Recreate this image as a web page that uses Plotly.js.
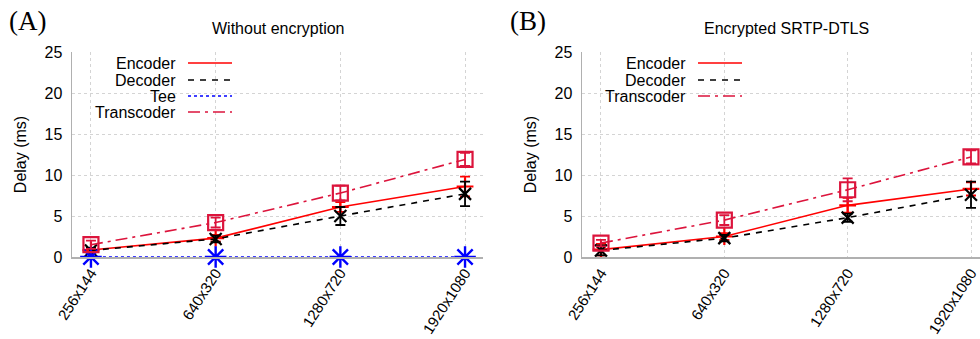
<!DOCTYPE html>
<html><head><meta charset="utf-8">
<script src="https://cdn.plot.ly/plotly-3.0.1.min.js"></script>
<style>html,body{margin:0;padding:0;background:#fff}</style>
</head><body>
<div id="chart" style="width:980px;height:339px"></div>
<script>
// ---- data ----
const categories = ['256x144', '640x320', '1280x720', '1920x1080'];

const panelTitles = ['Without encryption', 'Encrypted SRTP-DTLS'];
const panelLabels = ['(A)', '(B)'];
const yTitle = 'Delay (ms)';
const yTicks = [0, 5, 10, 15, 20, 25];

// Panel A (without encryption)
const encoderA = [0.85, 2.3, 6.1, 8.6];
const encoderAErr = [0.2, 0.4, 0.6, 1.2];
const decoderA = [0.8, 2.2, 5.0, 7.7];
const decoderAErr = [0.3, 0.4, 1.1, 1.5];
const teeA = [0, 0, 0, 0];
const teeAErr = [0, 0, 0, 0];
const transcoderA = [1.5, 4.2, 7.8, 11.9];
const transcoderAErr = [0.5, 0.6, 0.9, 0.8];

// Panel B (encrypted SRTP-DTLS)
const encoderB = [0.9, 2.5, 6.3, 8.3];
const encoderBErr = [0.7, 0.4, 0.9, 0.8];
const decoderB = [0.8, 2.3, 4.8, 7.6];
const decoderBErr = [0.6, 0.4, 0.5, 1.6];
const transcoderB = [1.7, 4.5, 8.2, 12.2];
const transcoderBErr = [0.4, 0.6, 1.4, 0.8];

// ---- styles ----
const W = 980, H = 339;
const FONT = 'Liberation Sans, Arial, sans-serif';
const styles = {
  Encoder:    {color: '#ff0000', dash: 'solid', symbol: 'cross-thin-open', size: 12, lw: 2.2},
  Decoder:    {color: '#000000', dash: '6px,6px', symbol: 'x-thin-open', size: 12, lw: 2.2},
  Tee:        {color: '#0000ff', dash: '3px,3px', symbol: 'asterisk-open', size: 18, lw: 2.4},
  Transcoder: {color: '#dc143c', dash: '12px,5px,3px,5px', symbol: 'square-open', size: 15, lw: 2.2}
};

function series(name, y, err, xa, ya) {
  const s = styles[name];
  return {
    type: 'scatter', mode: 'lines+markers', name: name,
    x: categories, y: y, xaxis: xa, yaxis: ya, showlegend: false,
    line: {color: s.color, width: 1.6, dash: s.dash},
    marker: {symbol: s.symbol, size: s.size, color: s.color, line: {color: s.color, width: s.lw}},
    error_y: {type: 'data', array: err, visible: true, color: s.color, thickness: 1.8, width: 5},
    cliponaxis: false
  };
}

const panels = [
  {xa: 'x', ya: 'y', series: [['Encoder', encoderA, encoderAErr], ['Decoder', decoderA, decoderAErr], ['Tee', teeA, teeAErr], ['Transcoder', transcoderA, transcoderAErr]]},
  {xa: 'x2', ya: 'y2', series: [['Encoder', encoderB, encoderBErr], ['Decoder', decoderB, decoderBErr], ['Transcoder', transcoderB, transcoderBErr]]}
];

const traces = [];
panels.forEach(p => {
  p.series.forEach(s => traces.push(series(s[0], s[1], s[2], p.xa, p.ya)));
});

// pixel helpers
const px = v => v / W;
const py = v => 1 - v / H;

const axisCommon = {
  showgrid: true, gridcolor: '#d4d4d4', griddash: 'dot', gridwidth: 1,
  zeroline: false, showline: true, linecolor: '#b0b0b0', linewidth: 1.5,
  ticks: '', tickfont: {family: FONT, size: 16, color: '#000'}, automargin: false
};
const xTickFont = {family: FONT, size: 15, color: '#000'};

const yDomain = [py(257), py(52)];
const layout = {
  width: W, height: H, margin: {l: 0, r: 0, t: 0, b: 0},
  paper_bgcolor: '#fff', plot_bgcolor: '#fff', showlegend: false,
  font: {family: FONT, size: 16, color: '#000'},
  xaxis: Object.assign({}, axisCommon, {domain: [px(72), px(483)], anchor: 'y', type: 'category',
    range: [-0.152, 3.144], tickangle: -57, ticklabelstandoff: 0, tickfont: xTickFont}),
  yaxis: Object.assign({}, axisCommon, {domain: yDomain, anchor: 'x', range: [0, 25], tickvals: yTicks,
    ticklabelstandoff: 5, title: {text: yTitle, font: {family: FONT, size: 16}, standoff: 14}}),
  xaxis2: Object.assign({}, axisCommon, {domain: [px(582), 1], anchor: 'y2', type: 'category',
    range: [-0.154, 3.073], tickangle: -57, ticklabelstandoff: 0, tickfont: xTickFont}),
  yaxis2: Object.assign({}, axisCommon, {domain: yDomain, anchor: 'x2', range: [0, 25], tickvals: yTicks,
    ticklabelstandoff: 5, title: {text: yTitle, font: {family: FONT, size: 16}, standoff: 14}}),
  shapes: [], annotations: []
};

// panel titles and labels
const titleX = [278, 786];
const labelX = [27, 528];
[0, 1].forEach(i => {
  layout.annotations.push({text: panelTitles[i], xref: 'paper', yref: 'paper', x: px(titleX[i]), y: py(28),
    xanchor: 'center', yanchor: 'middle', showarrow: false, font: {family: FONT, size: 16, color: '#000'}});
  layout.annotations.push({text: panelLabels[i], xref: 'paper', yref: 'paper', x: px(labelX[i]), y: py(21),
    xanchor: 'center', yanchor: 'middle', showarrow: false, font: {family: 'Liberation Serif, Times New Roman, serif', size: 27, color: '#000'}});
});

// gnuplot-style key: text right-aligned, sample line on its right
const keys = [
  {box: [82, 55, 240, 120], textRight: 178, lineFrom: 188, lineTo: 232, rows: [63, 80, 96, 112], names: panels[0].series.map(s => s[0])},
  {box: [592, 55, 750, 104], textRight: 688, lineFrom: 698, lineTo: 742, rows: [63, 80, 96], names: panels[1].series.map(s => s[0])}
];
keys.forEach(k => {
  layout.shapes.push({type: 'rect', xref: 'paper', yref: 'paper', layer: 'between',
    x0: px(k.box[0]), x1: px(k.box[2]), y0: py(k.box[3]), y1: py(k.box[1]),
    fillcolor: '#fff', line: {width: 0}});
  k.names.forEach((n, j) => {
    const s = styles[n];
    layout.annotations.push({text: n, xref: 'paper', yref: 'paper', x: px(k.textRight), y: py(k.rows[j]),
      xanchor: 'right', yanchor: 'middle', showarrow: false, font: {family: FONT, size: 16, color: '#000'}});
    layout.shapes.push({type: 'line', xref: 'paper', yref: 'paper',
      x0: px(k.lineFrom), x1: px(k.lineTo), y0: py(k.rows[j]), y1: py(k.rows[j]),
      line: {color: s.color, width: 1.6, dash: s.dash}});
  });
});

Plotly.newPlot('chart', traces, layout, {displayModeBar: false, staticPlot: true});
</script>
</body></html>
